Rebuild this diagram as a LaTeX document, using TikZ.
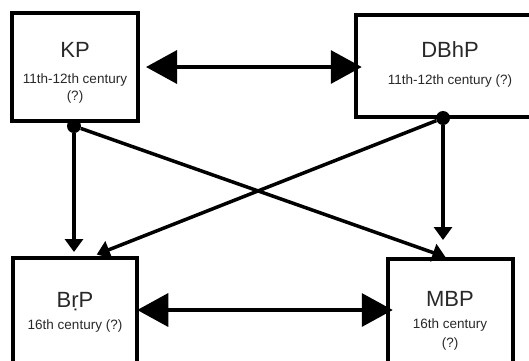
\documentclass[tikz,border=0pt]{standalone}
\usepackage{fontspec}
\setmainfont{Liberation Sans}
\usetikzlibrary{arrows.meta}
\definecolor{textgray}{RGB}{40,40,40}
\begin{document}
\begin{tikzpicture}[x=1pt,y=-1pt,
    box/.style={draw,line width=4pt,inner sep=0pt},
    title/.style={anchor=base,inner sep=0pt,text=textgray,font=\fontsize{22}{24}\selectfont},
    note/.style={anchor=base,inner sep=0pt,text=textgray,font=\fontsize{13.5}{15}\selectfont},
    dot/.style={circle,fill,inner sep=0pt,minimum size=14pt},
    bigarrow/.style={line width=3.5pt,{Triangle[length=31pt,width=33pt]}-{Triangle[length=31pt,width=33pt]}},
    smallarrow/.style={line width=3.5pt,-{Triangle[length=13pt,width=18pt]}}]
    \path[use as bounding box,clip] (0,0) rectangle (529,360);
    \node[box,minimum width=126pt,minimum height=108pt] (kp) at (75,67) {};
    \node[box,minimum width=188pt,minimum height=102pt] (dbhp) at (450,66) {};
    \node[box,minimum width=124pt,minimum height=130pt] (brp) at (75,323) {};
    \node[box,minimum width=125pt,minimum height=130pt] (mbp) at (450.5,324) {};
    \node[title] (kp-name) at (75,57) {KP};
    \node[note] (kp-date) at (75,83) {11th-12th century};
    \node[note] (kp-q) at (75,100) {(?)};
    \node[title] (dbhp-name) at (450,57) {DBhP};
    \node[note] (dbhp-date) at (450,84) {11th-12th century (?)};
    \node[title] (brp-name) at (75,307) {BṛP};
    \node[note] (brp-date) at (75,329) {16th century (?)};
    \node[title] (mbp-name) at (450,306) {MBP};
    \node[note] (mbp-date) at (450,328) {16th century};
    \node[note] (mbp-q) at (450,347) {(?)};
    \node[dot] (kp-dot) at (74,126) {};
    \node[dot] (dbhp-dot) at (443,118) {};
    \draw[bigarrow,shorten <=6pt,shorten >=-7.75pt] (kp.east) -- (kp.east -| dbhp.west);
    \draw[bigarrow,shorten <=-1.75pt,shorten >=-6.75pt] ([yshift=13pt]brp.east) -- ([yshift=13pt]brp.east -| mbp.west);
    \draw[smallarrow,shorten >=4pt] (kp-dot) -- (kp-dot |- brp.north);
    \draw[smallarrow] (kp-dot) -- ([xshift=-5pt]mbp.north);
    \draw[smallarrow,shorten >=17pt] (dbhp-dot) -- (dbhp-dot |- mbp.north);
    \draw[smallarrow,shorten >=4pt] (dbhp-dot) -- ([xshift=18pt]brp.north);
\end{tikzpicture}
\end{document}
